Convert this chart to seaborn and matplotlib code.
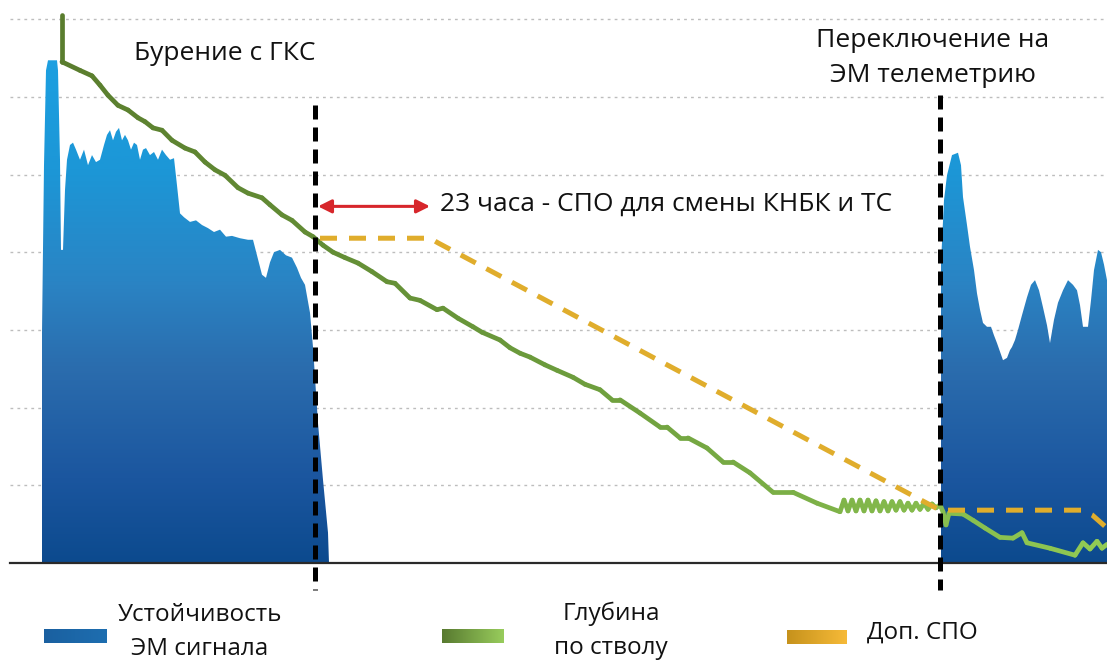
import numpy as np
import matplotlib
matplotlib.use("Agg")
import matplotlib.pyplot as plt
import seaborn as sns
from matplotlib.collections import LineCollection
from matplotlib.colors import LinearSegmentedColormap

# ---------------- data (hours, relative level) ----------------
signal1_hours = [0.4, 0.8, 1.2, 1.6, 3.4, 3.6, 4.0, 4.2, 4.6, 5.0, 5.4, 6.0, 6.6, 7.2, 8.0, 8.8,
                 9.6, 10.4, 11.2, 12.0, 12.8, 13.4, 14.0, 14.6, 15.2, 15.8, 16.4, 17.0, 17.6,
                 18.2, 18.8, 19.4, 20.0, 20.6, 21.2, 22.0, 22.8, 23.6, 24.4, 25.2, 26.0, 26.8,
                 27.4, 28.0, 28.8, 30.0, 31.2, 32.4, 33.6, 34.8, 36.0, 37.2, 38.4, 40.0, 41.6,
                 42.6, 43.4, 44.4, 45.2, 46.0, 46.8, 48.0, 49.2, 50.4, 51.4, 52.2, 53.0, 54.0,
                 54.6, 55.6, 56.6, 57.6, 57.8]
signal1_level = [2.96, 5.12, 6.34, 6.47, 6.47, 6.34, 5.19, 4.03, 4.03, 4.80, 5.19, 5.38, 5.41,
                 5.32, 5.19, 5.32, 5.12, 5.25, 5.16, 5.19, 5.38, 5.51, 5.57, 5.44, 5.55, 5.60,
                 5.44, 5.51, 5.44, 5.32, 5.41, 5.38, 5.19, 5.32, 5.34, 5.25, 5.29, 5.19, 5.32,
                 5.25, 5.19, 5.21, 4.86, 4.50, 4.45, 4.39, 4.41, 4.35, 4.31, 4.26, 4.29, 4.20,
                 4.21, 4.18, 4.16, 4.16, 3.96, 3.71, 3.67, 3.87, 4.00, 4.03, 3.96, 3.93, 3.80,
                 3.67, 3.58, 3.22, 2.78, 1.80, 1.07, 0.39, 0.0]

signal2_hours = [180.2, 180.8, 181.4, 182.4, 183.6, 184.2, 184.6, 185.4, 186.0, 186.8, 187.4,
                 188.0, 188.6, 189.4, 190.2, 190.8, 191.4, 192.0, 192.6, 193.4, 194.0, 194.4,
                 195.0, 195.6, 196.4, 197.4, 198.2, 199.0, 199.8, 200.6, 201.4, 202.0, 202.8,
                 203.6, 204.6, 205.6, 206.6, 207.4, 208.0, 208.6, 209.6, 210.2, 210.8, 211.6,
                 212.2, 212.8, 213.4]
signal2_level = [3.86, 4.67, 4.99, 5.25, 5.28, 5.12, 4.71, 4.35, 4.07, 3.77, 3.47, 3.26, 3.09,
                 3.04, 3.04, 2.93, 2.83, 2.72, 2.61, 2.64, 2.74, 2.78, 2.87, 3.00, 3.19, 3.42,
                 3.58, 3.64, 3.51, 3.29, 3.06, 2.83, 3.13, 3.35, 3.51, 3.64, 3.58, 3.51, 3.32,
                 3.04, 3.04, 3.38, 3.77, 4.03, 4.00, 3.84, 3.64]

depth_hours = [4.4, 4.4, 8.0, 10.4, 12.0, 13.6, 15.6, 17.6, 19.6, 21.0, 22.6, 24.4, 26.4, 29.0,
               31.0, 33.0, 35.0, 37.0, 39.6, 41.6, 44.4, 46.0, 48.4, 50.4, 53.0, 54.6, 56.6,
               58.6, 61.0, 63.6, 66.4, 69.4, 71.0, 74.0, 76.0, 79.4, 80.6, 83.6, 86.6, 88.4,
               92.0, 94.0, 96.0, 98.0, 101.0, 103.4, 106.6, 109.0, 112.0, 114.4, 116.0, 120.0,
               124.0, 125.4, 128.0, 129.6, 133.4, 136.6, 138.6, 142.0, 146.6, 150.6, 155.4,
               160.0, 160.8, 161.6, 162.4, 163.2, 164.0, 164.8, 165.6, 166.4, 167.2, 168.0,
               168.8, 169.6, 170.4, 171.2, 172.0, 172.8, 173.6, 174.4, 175.2, 176.0, 176.8,
               177.6, 178.4, 179.2, 180.0, 180.6, 181.2, 181.8, 184.6, 186.6, 189.0, 192.0,
               194.6, 196.4, 197.4, 202.0, 207.0, 208.6, 210.0, 211.4, 212.4, 213.4]
depth_level = [7.05, 6.45, 6.34, 6.27, 6.15, 6.02, 5.89, 5.83, 5.73, 5.68, 5.60, 5.57, 5.44,
               5.34, 5.29, 5.16, 5.06, 4.99, 4.83, 4.76, 4.70, 4.61, 4.48, 4.41, 4.26, 4.20,
               4.09, 4.00, 3.93, 3.86, 3.75, 3.62, 3.60, 3.41, 3.38, 3.26, 3.28, 3.15, 3.04,
               2.97, 2.87, 2.77, 2.70, 2.65, 2.55, 2.48, 2.39, 2.30, 2.23, 2.10, 2.10, 1.93,
               1.75, 1.75, 1.61, 1.61, 1.48, 1.30, 1.30, 1.16, 0.91, 0.91, 0.77, 0.66, 0.81,
               0.67, 0.81, 0.67, 0.81, 0.67, 0.81, 0.67, 0.80, 0.67, 0.79, 0.67, 0.79, 0.68,
               0.79, 0.68, 0.77, 0.68, 0.77, 0.69, 0.77, 0.69, 0.76, 0.71, 0.75, 0.66, 0.49,
               0.64, 0.63, 0.55, 0.45, 0.33, 0.32, 0.39, 0.26, 0.19, 0.10, 0.26, 0.18, 0.28,
               0.19, 0.24]

extra_trip_hours = [56.0, 78.0, 79.6, 180.0, 208.4, 210.4, 213.4]
extra_trip_level = [4.18, 4.18, 4.12, 0.68, 0.68, 0.62, 0.45]

marker_hours = [55.0, 180.0]
marker_top = [5.89, 6.02]
arrow_hours = [55.6, 78.0]
arrow_level = 4.59

label_drilling = "Бурение с ГКС"
label_switch = "Переключение на\nЭМ телеметрию"
label_trip = "23 часа - СПО для смены КНБК и ТС"
legend_labels = ["Устойчивость\nЭМ сигнала", "Глубина\nпо стволу", "Доп. СПО"]

# ---------------- style ----------------
sns.set_theme(style="white")
plt.rcParams['font.family'] = ['Open Sans', 'DejaVu Sans']

W, H = 1107, 664
fig = plt.figure(figsize=(W / 100, H / 100), dpi=100)
fig.patch.set_facecolor('white')

def fx(px):
    return px / W

def fy(py):
    return 1 - py / H

XMIN, XMAX = -6.0, 213.4
YMAX = 7.246
ax = fig.add_axes([fx(10), fy(563), fx(1107) - fx(10), fy(0) - fy(563)])
ax.set_xlim(XMIN, XMAX)
ax.set_ylim(0, YMAX)
ax.set_facecolor('white')
for s in ['top', 'right', 'left']:
    ax.spines[s].set_visible(False)
ax.spines['bottom'].set_color('#2a2a2a')
ax.spines['bottom'].set_linewidth(1.6)
ax.set_yticks([1, 2, 3, 4, 5, 6, 7])
ax.set_xticks([])
ax.tick_params(left=False, labelleft=False, bottom=False)
ax.yaxis.grid(True, linestyle=(0, (2, 3)), color='#bdbdbd', linewidth=1.0)
ax.set_axisbelow(True)

# ---------------- blue gradient areas ----------------
blue_cmap = LinearSegmentedColormap.from_list(
    'blue', [(0.0, '#0c4a8e'), (0.15, '#1b569f'), (0.35, '#2b6dae'),
             (0.5, '#2a84c4'), (0.7, '#1c97d7'), (1.0, '#1ca4e6')])
grad = np.linspace(0, 1, 256).reshape(-1, 1)
for hx, lv in [(signal1_hours, signal1_level), (signal2_hours, signal2_level)]:
    poly = ax.fill_between(hx, lv, 0, color='none', linewidth=0)
    im = ax.imshow(grad, extent=[XMIN, XMAX, 0, YMAX], origin='lower', aspect='auto',
                   cmap=blue_cmap, zorder=1, interpolation='bilinear')
    im.set_clip_path(poly.get_paths()[0], transform=ax.transData)
ax.set_xlim(XMIN, XMAX)
ax.set_ylim(0, YMAX)

# ---------------- green gradient line ----------------
green_cmap = LinearSegmentedColormap.from_list('green', ['#587a2c', '#6c9c3c', '#92cb55'])
pts = np.column_stack([depth_hours, depth_level])
segs = np.stack([pts[:-1], pts[1:]], axis=1)
cvals = (np.array(depth_hours[:-1]) - XMIN) / (XMAX - XMIN)
lc = LineCollection(segs, colors=green_cmap(cvals), linewidths=3.4, capstyle='round',
                    joinstyle='round', zorder=3)
ax.add_collection(lc)

# ---------------- yellow dashed line ----------------
sns.lineplot(x=extra_trip_hours, y=extra_trip_level, ax=ax, color='#e0ad2c', lw=3.6,
             linestyle=(0, (3.4, 2.4)), estimator=None, sort=False, zorder=4, legend=False)

# ---------------- vertical markers ----------------
for mh, mt in zip(marker_hours, marker_top):
    ax.plot([mh, mh], [mt, -0.35], color='black', lw=3.6, linestyle=(0, (2.8, 1.6)),
            clip_on=False, zorder=6)

# ---------------- arrow ----------------
ax.annotate('', xy=(arrow_hours[0], arrow_level), xytext=(arrow_hours[1], arrow_level),
            arrowprops=dict(arrowstyle='<|-|>', color='#d7262b', lw=2.2,
                            mutation_scale=20, shrinkA=0, shrinkB=0), zorder=7)

# ---------------- texts ----------------
fig.text(fx(225), fy(53), label_drilling, ha='center', va='center', fontsize=19, color='#111111')
fig.text(fx(933), fy(58), label_switch, ha='center', va='center', fontsize=19, color='#111111',
         linespacing=1.55)
fig.text(fx(440), fy(204), label_trip, ha='left', va='center', fontsize=19, color='#111111')

# ---------------- legend ----------------
def grad_patch(x0, x1, y0, y1, c0, c1):
    lax = fig.add_axes([fx(x0), fy(y1), fx(x1) - fx(x0), fy(y0) - fy(y1)])
    cm = LinearSegmentedColormap.from_list('p', [c0, c1])
    lax.imshow(np.linspace(0, 1, 100).reshape(1, -1), cmap=cm, aspect='auto')
    lax.axis('off')

grad_patch(44, 107, 629, 643, '#1a60a0', '#1e6eb0')
grad_patch(442, 504, 629, 643, '#587a30', '#98cc5c')
grad_patch(787, 847, 630, 644, '#c6921c', '#f6ba38')
fig.text(fx(200), fy(632), legend_labels[0], ha='center', va='center', fontsize=17.5,
         color='#111111', linespacing=1.55)
fig.text(fx(611), fy(631), legend_labels[1], ha='center', va='center', fontsize=17.5,
         color='#111111', linespacing=1.55)
fig.text(fx(867), fy(633), legend_labels[2], ha='left', va='center', fontsize=17.5,
         color='#111111')

fig.savefig('out.png', dpi=100, facecolor='white')
